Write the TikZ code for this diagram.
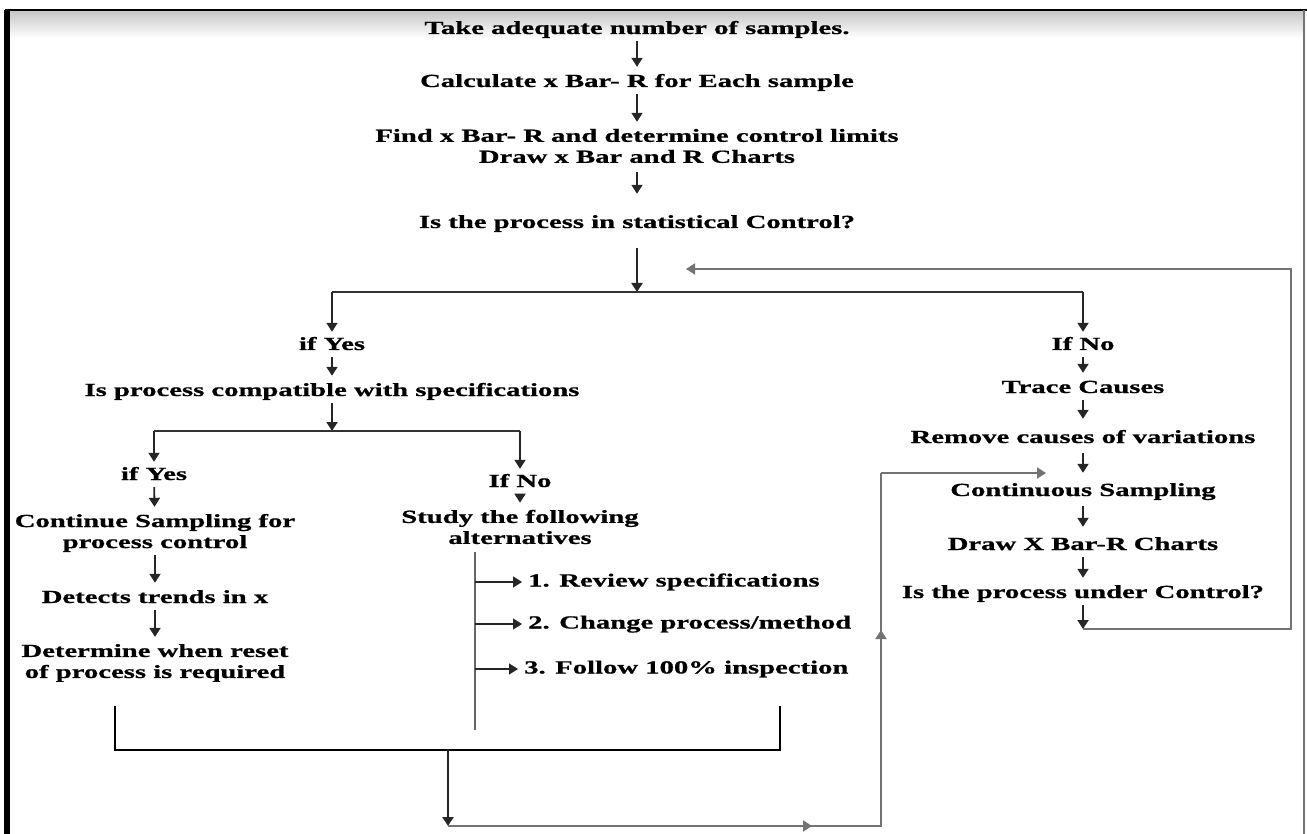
\documentclass[tikz,border=0pt]{standalone}
\usepackage{fontspec}
\newfontfamily\flowfont[FakeStretch=1.55, FakeBold=0.8]{Liberation Serif}
\usetikzlibrary{arrows.meta}

\tikzset{
  lbl/.style={font=\flowfont\bfseries\fontsize{18.5}{21}\selectfont, inner sep=0pt, text height=13pt, text depth=4pt, anchor=base},
  lbltwo/.style={font=\flowfont\bfseries\fontsize{18.5}{21}\selectfont, inner sep=0pt, align=center},
  arr/.style={draw=black!85, line width=1.8pt, -{Triangle[width=11pt,length=9pt]}, shorten <=3pt, shorten >=7pt},
  drop/.style={arr, shorten <=0pt, shorten >=5pt},
  hline/.style={draw=black!80, line width=1.6pt},
  gline/.style={draw=black!60, line width=1.6pt},
  fb/.style={draw=black!55, line width=1.8pt},
  fbarr/.style={fb, -{Triangle[width=11pt,length=9pt]}},
  bracket/.style={draw=black, line width=2.8pt}
}

\begin{document}
\begin{tikzpicture}[x=1pt,y=-1pt]
\useasboundingbox (0,0) rectangle (1307,834);
% frame
\shade[top color=black!22, bottom color=white] (10,11) rectangle (1303,38);
\draw[line width=2pt] (5,10) -- (1307,10);
\fill (4,10) rectangle (10,834);
\draw[black!55, line width=1.5pt] (1304,10) -- (1304,834);

% main column
\node[lbl] (take) at (637,34) {Take adequate number of samples.};
\node[lbl] (calc) at (637,87) {Calculate x Bar- R for Each sample};
\node[lbltwo] (find) at (637,146) {Find x Bar- R and determine control limits\\Draw x Bar and R Charts};
\node[lbl] (ctrl) at (637,228) {Is the process in statistical Control?};
\coordinate (split) at (637,292);

\draw[arr] (take) -- (calc);
\draw[arr] (calc) -- (find);
\draw[arr, shorten <=9pt, shorten >=21pt] (find) -- (ctrl);
\draw[arr, line width=2.4pt, shorten <=16pt, shorten >=0pt] (ctrl) -- (split);

% if yes branch
\node[lbl] (yes1) at (332,350) {if Yes};
\node[lbl] (compat) at (332,396) {Is process compatible with specifications};
\coordinate (split2) at (332,431);
\node[lbl] (yes2) at (154,480) {if Yes};
\node[lbltwo] (cont) at (155,533) {Continue Sampling for\\process control};
\node[lbl] (detect) at (155,603) {Detects trends in x};
\node[lbltwo] (reset) at (155,663) {Determine when reset\\of process is required};
\node[lbl] (no2) at (520,487) {If No};
\node[lbltwo] (study) at (520,527) {Study the following\\alternatives};
\node[lbl, anchor=west] (alt1) at (528,582) {1. Review specifications};
\node[lbl, anchor=west] (alt2) at (528,624) {2. Change process/method};
\node[lbl, anchor=west] (alt3) at (524,669) {3. Follow 100\% inspection};
\coordinate (altTop) at (475,552);
\coordinate (altBot) at (475,730);

% if no branch
\node[lbl] (no1) at (1083,350) {If No};
\node[lbl] (trace) at (1083,393) {Trace Causes};
\node[lbl] (remove) at (1083,443) {Remove causes of variations};
\node[lbl] (contS) at (1083,496) {Continuous Sampling};
\node[lbl] (drawX) at (1083,550) {Draw X Bar-R Charts};
\node[lbl] (under) at (1083,598) {Is the process under Control?};
\coordinate (ucorner) at (1083,629);

\draw[hline] (yes1 |- split) -- (no1 |- split);
\draw[drop] (yes1 |- split) -- (yes1);
\draw[drop] (no1 |- split) -- (no1);
\draw[arr] (yes1) -- (compat);
\draw[arr, shorten >=0pt] (compat) -- (split2);
\draw[hline] (yes2 |- split2) -- (no2 |- split2);
\draw[drop] (yes2 |- split2) -- (yes2);
\draw[drop] (no2 |- split2) -- (no2);
\draw[arr] (yes2) -- (cont);
\draw[arr] (cont) -- (detect);
\draw[arr] (detect) -- (reset);
\draw[arr] (no2) -- (study);
\draw[gline] (altTop) -- (altBot);
\draw[arr, line width=1.3pt, shorten <=0pt, shorten >=6pt] (altTop |- alt1.west) -- (alt1.west);
\draw[arr, line width=1.3pt, shorten <=0pt, shorten >=6pt] (altTop |- alt2.west) -- (alt2.west);
\draw[arr, line width=1.3pt, shorten <=0pt, shorten >=6pt] (altTop |- alt3.west) -- (alt3.west);

\draw[arr] (no1) -- (trace);
\draw[arr, shorten >=11pt] (trace) -- (remove);
\draw[arr, shorten <=6pt, shorten >=10pt] (remove) -- (contS);
\draw[arr, shorten <=6pt, shorten >=10pt] (contS) -- (drawX);
\draw[arr] (drawX) -- (under);
\draw[arr, shorten >=0pt] (under) -- (ucorner);

% loop back to the top
\coordinate (loopA) at (1291,629);
\coordinate (loopB) at (1291,269);
\coordinate (loopEnd) at (686,269);
\draw[fbarr] (ucorner) -- (loopA) -- (loopB) -- (loopEnd);

% bottom return path
\coordinate (bL) at (115,706);
\coordinate (bLc) at (115,750);
\coordinate (bR) at (780,706);
\coordinate (bRc) at (780,750);
\coordinate (bMid) at (448,750);
\coordinate (bBot) at (448,826);
\coordinate (bArr) at (812,826);
\coordinate (bCor) at (881,826);
\coordinate (bUp) at (881,630);
\coordinate (bTop) at (881,473);
\coordinate (bEnd) at (1046,473);
\draw[bracket] (bL) -- (bLc) -- (bRc) -- (bR);
\draw[arr, line width=2.6pt, shorten <=0pt, shorten >=0pt] (bMid) -- (bBot);
\draw[fb] (bBot) -- (bCor) -- (bTop);
\draw[fbarr] (bBot) -- (bArr);
\draw[fbarr] (bCor) -- (bUp);
\draw[fbarr] (bTop) -- (bEnd);
\end{tikzpicture}
\end{document}
